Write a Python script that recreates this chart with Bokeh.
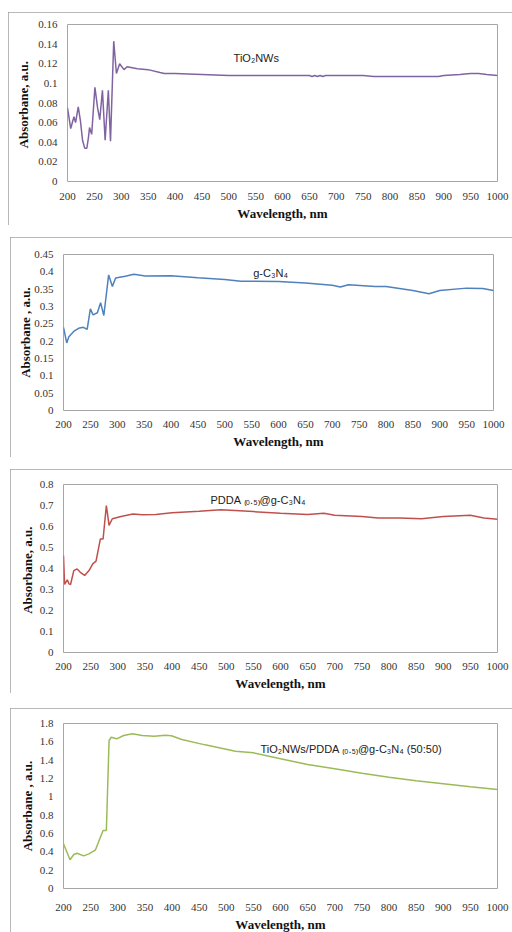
from bokeh.plotting import figure
from bokeh.layouts import column, row
from bokeh.models import Range1d, FixedTicker, Label, Title, Spacer
from bokeh.embed import file_html
from bokeh.resources import INLINE

# ---------------- data ----------------
X_TICKS = [200, 250, 300, 350, 400, 450, 500, 550, 600, 650, 700, 750, 800, 850, 900, 950, 1000]

# Panel 1: TiO2NWs
wl1 = [200, 206, 212, 215, 220, 224, 228, 232, 236, 239, 241, 245, 251, 256, 260, 265, 270, 276, 280,
       286, 291, 297, 305, 311, 330, 350, 372, 380, 400, 450, 500, 550, 600, 650, 655, 660, 665, 670,
       675, 680, 700, 750, 770, 800, 850, 890, 900, 930, 950, 965, 980, 1000]
abs1 = [0.075, 0.054, 0.066, 0.060, 0.076, 0.062, 0.042, 0.034, 0.034, 0.045, 0.055, 0.048, 0.096, 0.075,
        0.063, 0.093, 0.042, 0.093, 0.041, 0.143, 0.110, 0.120, 0.114, 0.117, 0.115, 0.114, 0.111, 0.110,
        0.110, 0.109, 0.108, 0.108, 0.108, 0.108, 0.107, 0.108, 0.107, 0.108, 0.107, 0.108, 0.108, 0.108,
        0.107, 0.107, 0.107, 0.107, 0.108, 0.109, 0.110, 0.110, 0.109, 0.108]
y1_ticks = [0, 0.02, 0.04, 0.06, 0.08, 0.1, 0.12, 0.14, 0.16]
y1_labels = ["0", "0.02", "0.04", "0.06", "0.08", "0.1", "0.12", "0.14", "0.16"]

# Panel 2: g-C3N4
wl2 = [200, 206, 210, 219, 228, 237, 244, 250, 255, 263, 269, 275, 284, 291, 297, 315, 331, 352, 400,
       450, 500, 530, 600, 650, 700, 715, 730, 780, 800, 850, 880, 900, 950, 980, 1000]
abs2 = [0.240, 0.195, 0.213, 0.228, 0.237, 0.240, 0.234, 0.293, 0.276, 0.282, 0.311, 0.274, 0.391, 0.358,
        0.382, 0.387, 0.393, 0.388, 0.389, 0.383, 0.378, 0.373, 0.372, 0.368, 0.361, 0.356, 0.363, 0.358,
        0.358, 0.346, 0.337, 0.346, 0.353, 0.352, 0.346]
y2_ticks = [0, 0.05, 0.1, 0.15, 0.2, 0.25, 0.3, 0.35, 0.4, 0.45]
y2_labels = ["0", "0.05", "0.1", "0.15", "0.2", "0.25", "0.3", "0.35", "0.4", "0.45"]

# Panel 3: PDDA(0.5)@g-C3N4
wl3 = [200, 202, 207, 210, 213, 219, 225, 231, 239, 247, 254, 260, 268, 273, 279, 284, 290, 308, 328,
       345, 370, 400, 450, 490, 550, 600, 650, 680, 700, 750, 780, 820, 860, 900, 950, 975, 1000]
abs3 = [0.462, 0.324, 0.346, 0.327, 0.324, 0.390, 0.398, 0.382, 0.367, 0.390, 0.422, 0.435, 0.541, 0.541,
        0.700, 0.605, 0.637, 0.649, 0.660, 0.656, 0.657, 0.665, 0.673, 0.680, 0.671, 0.663, 0.657, 0.663,
        0.654, 0.648, 0.640, 0.640, 0.637, 0.648, 0.654, 0.640, 0.635]
y3_ticks = [0, 0.1, 0.2, 0.3, 0.4, 0.5, 0.6, 0.7, 0.8]
y3_labels = ["0", "0.1", "0.2", "0.3", "0.4", "0.5", "0.6", "0.7", "0.8"]

# Panel 4: TiO2NWs/PDDA(0.5)@g-C3N4 (50:50)
wl4 = [200, 212, 219, 225, 237, 247, 259, 268, 273, 279, 284, 288, 298, 311, 327, 345, 367, 388, 399,
       418, 461, 517, 550, 600, 650, 700, 750, 800, 850, 900, 950, 1000]
abs4 = [0.487, 0.313, 0.371, 0.385, 0.356, 0.378, 0.422, 0.560, 0.633, 0.633, 1.615, 1.650, 1.633, 1.669,
        1.687, 1.669, 1.661, 1.672, 1.666, 1.625, 1.567, 1.498, 1.480, 1.415, 1.353, 1.306, 1.258, 1.214,
        1.175, 1.142, 1.109, 1.080]
y4_ticks = [0, 0.2, 0.4, 0.6, 0.8, 1, 1.2, 1.4, 1.6, 1.8]
y4_labels = ["0", "0.2", "0.4", "0.6", "0.8", "1", "1.2", "1.4", "1.6", "1.8"]

names = ["TiO\u2082NWs", "g-C\u2083N\u2084", "PDDA \u208d\u2080.\u2085\u208e@g-C\u2083N\u2084",
         "TiO\u2082NWs/PDDA \u208d\u2080.\u2085\u208e@g-C\u2083N\u2084 (50:50)"]
colors = ["#8064A2", "#4F81BD", "#C0504D", "#9BBB59"]

SERIF = "Liberation Serif"


def panel(wl, ab, yt, yl, ymax, name, color, lab_xy, width, height, borders,
          ylabel, title_offset, ylab_standoff, x_standoff):
    p = figure(width=width, height=height, output_backend="svg", toolbar_location=None,
               x_range=Range1d(200, 1000), y_range=Range1d(0, ymax),
               min_border_left=borders[0], min_border_right=borders[1],
               min_border_top=borders[2], min_border_bottom=borders[3])
    p.styles = {"outline": "1px solid #a0a0a0", "outline-offset": "-1px"}
    p.background_fill_color = "white"
    p.border_fill_color = "white"
    p.outline_line_color = "#a6a6a6"
    p.outline_line_width = 1
    p.grid.visible = False
    p.line(wl, ab, line_color=color, line_width=1.5)

    p.xaxis.ticker = FixedTicker(ticks=X_TICKS)
    p.yaxis.ticker = FixedTicker(ticks=yt)
    p.yaxis.major_label_overrides = {t: s for t, s in zip(yt, yl)}
    for ax in (p.xaxis[0], p.yaxis[0]):
        ax.axis_line_color = None
        ax.major_tick_line_color = None
        ax.minor_tick_line_color = None
        ax.major_tick_out = 0
        ax.major_tick_in = 0
        ax.major_label_text_font = SERIF
        ax.major_label_text_font_size = "11px"
        ax.major_label_text_color = "#333333"
    p.xaxis.major_label_standoff = x_standoff
    p.yaxis.major_label_standoff = 10
    p.yaxis.axis_label = ylabel
    p.yaxis.axis_label_text_font = SERIF
    p.yaxis.axis_label_text_font_style = "bold"
    p.yaxis.axis_label_text_font_size = "13px"
    p.yaxis.axis_label_text_color = "#111111"
    p.yaxis.axis_label_standoff = ylab_standoff
    p.add_layout(Title(text="Wavelength, nm", align="center", text_font=SERIF,
                       text_font_style="bold", text_font_size="13px", text_color="#111111",
                       offset=title_offset, standoff=2), "below")
    p.add_layout(Label(x=lab_xy[0], y=lab_xy[1], text=name, text_font="Liberation Sans",
                       text_font_size="11px", text_color="#222222", text_baseline="middle"))
    return p


p1 = panel(wl1, abs1, y1_ticks, y1_labels, 0.16, names[0], colors[0], (509, 0.126),
           504, 213, (59, 15, 12, 44), "Absorbane,  a.u.", -19, 4, 11)
p2 = panel(wl2, abs2, y2_ticks, y2_labels, 0.45, names[1], colors[1], (553, 0.398),
           502, 220, (53, 19, 17, 47), "Absorbane , a.u.", -13, -2, 10)
p3 = panel(wl3, abs3, y3_ticks, y3_labels, 0.8, names[2], colors[2], (471, 0.724),
           502, 224, (53, 15, 15, 41), "Absorbane,  a.u.", -16, 2, 10)
p4 = panel(wl4, abs4, y4_ticks, y4_labels, 1.8, names[3], colors[3], (563, 1.527),
           502, 224, (53, 15, 15, 44), "Absorbane , a.u.", -16, 2, 15)

layout = column(
    Spacer(width=512, height=12),
    row(Spacer(width=8, height=213), p1),
    Spacer(width=512, height=12),
    row(Spacer(width=10, height=220), p2),
    Spacer(width=512, height=12),
    row(Spacer(width=10, height=224), p3),
    Spacer(width=512, height=15),
    row(Spacer(width=10, height=224), p4),
)
open("out.html", "w").write(file_html(layout, INLINE))
